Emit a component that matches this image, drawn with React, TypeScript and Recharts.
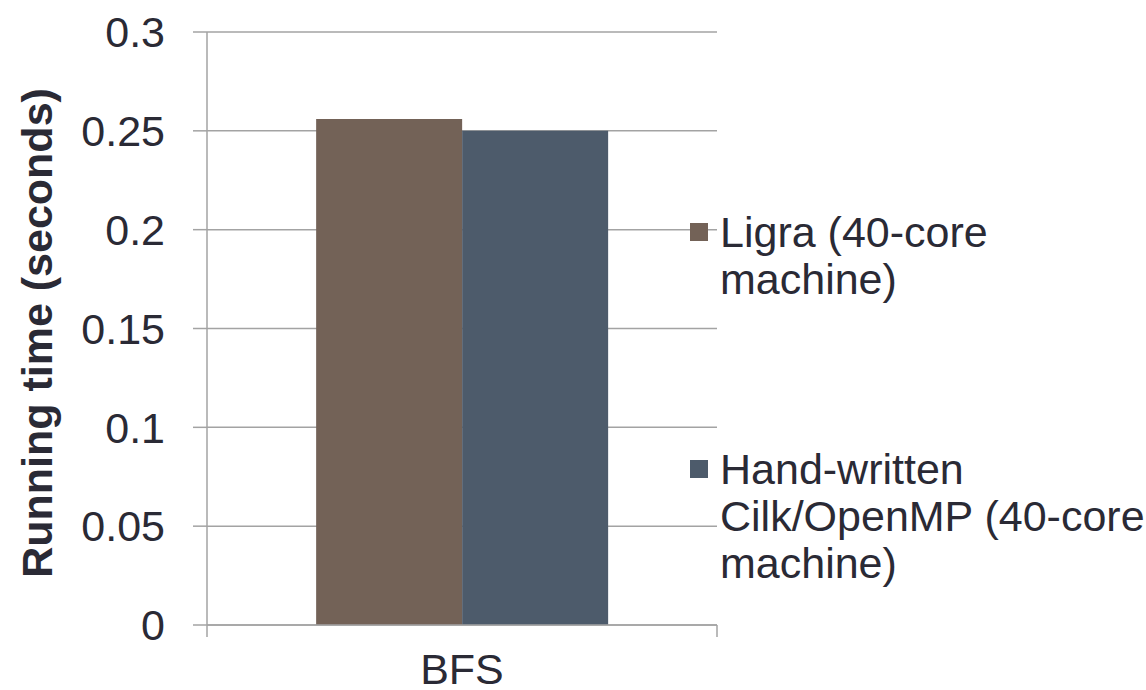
import React from 'react'
import { BarChart, Bar, XAxis, YAxis, CartesianGrid, Legend } from 'recharts'

const categories = ['BFS']
const ligraTimes = [0.256]
const handWrittenTimes = [0.25]
const yTicks = [0, 0.05, 0.1, 0.15, 0.2, 0.25, 0.3]
const seriesNames = ['Ligra (40-core machine)', 'Hand-written Cilk/OpenMP (40-core machine)']
const legendLines = [
  ['Ligra (40-core', 'machine)'],
  ['Hand-written', 'Cilk/OpenMP (40-core', 'machine)'],
]
const seriesColors = ['#736257', '#4D5B6B']

const data = categories.map((name, i) => ({
  name,
  ligra: ligraTimes[i],
  hand: handWrittenTimes[i],
}))

const FONT = '"Liberation Sans", Arial, Helvetica, sans-serif'
const TEXT = '#2A2A35'
const GRID = '#A3A3A3'
const FS = 43

function CategoryTick(props: any) {
  const { x, y, payload, width } = props
  const half = payload && payload.offset ? payload.offset : width / 2
  return (
    <g>
      <line x1={x - half} x2={x - half} y1={y - 12} y2={y} stroke={GRID} strokeWidth={1.5} />
      <line x1={x + half} x2={x + half} y1={y - 12} y2={y} stroke={GRID} strokeWidth={1.5} />
      <text x={x} y={y + 47} textAnchor="middle" fill={TEXT} fontSize={FS} fontFamily={FONT}>
        {payload.value}
      </text>
    </g>
  )
}

function AxisTitle() {
  return (
    <text
      transform="translate(52,333) rotate(-90)"
      textAnchor="middle"
      fill={TEXT}
      fontSize={FS}
      fontWeight="bold"
      fontFamily={FONT}
    >
      Running time (seconds)
    </text>
  )
}

function LegendBox() {
  const tops = [0, 237]
  return (
    <div style={{ position: 'relative', width: 458, height: 400, fontFamily: FONT, color: TEXT, textAlign: 'left' }}>
      {legendLines.map((lines, i) => (
        <div key={seriesNames[i]} style={{ position: 'absolute', left: 0, top: tops[i] }}>
          <div
            style={{
              position: 'absolute',
              left: 2,
              top: 14,
              width: 18,
              height: 18,
              background: seriesColors[i],
            }}
          />
          <div style={{ position: 'absolute', left: 32, top: 0, fontSize: FS, lineHeight: '47px', whiteSpace: 'nowrap' }}>
            {lines.map((l) => (
              <div key={l}>{l}</div>
            ))}
          </div>
        </div>
      ))}
    </div>
  )
}

export default function App() {
  return (
    <div style={{ position: 'fixed', left: 0, top: 0, width: 1146, height: 690, background: '#fff', overflow: 'hidden' }}>
      <BarChart
        width={1146}
        height={690}
        data={data}
        margin={{ top: 32, right: 429, bottom: 0, left: 0 }}
        barCategoryGap="21.4%"
        barGap={0}
      >
        <CartesianGrid vertical={false} stroke={GRID} strokeWidth={1.5} />
        <XAxis
          dataKey="name"
          height={65}
          axisLine={{ stroke: GRID, strokeWidth: 1.5 }}
          tickLine={false}
          tickSize={12}
          tickMargin={0}
          tick={<CategoryTick />}
        />
        <YAxis
          width={207}
          domain={[0, 0.3]}
          ticks={yTicks}
          interval={0}
          axisLine={{ stroke: GRID, strokeWidth: 1.5 }}
          tickLine={{ stroke: GRID, strokeWidth: 1.5 }}
          tickSize={14}
          tickMargin={28}
          tick={{ fill: TEXT, fontSize: FS, fontFamily: FONT }}
          label={{ content: () => <AxisTitle /> }}
        />
        <Legend
          layout="horizontal"
          verticalAlign="middle"
          align="center"
          content={() => <LegendBox />}
          wrapperStyle={{ position: 'absolute', left: 688, top: 209, width: 458 }}
        />
        <Bar dataKey="ligra" name={seriesNames[0]} fill={seriesColors[0]} isAnimationActive={false} />
        <Bar dataKey="hand" name={seriesNames[1]} fill={seriesColors[1]} isAnimationActive={false} />
      </BarChart>
    </div>
  )
}
